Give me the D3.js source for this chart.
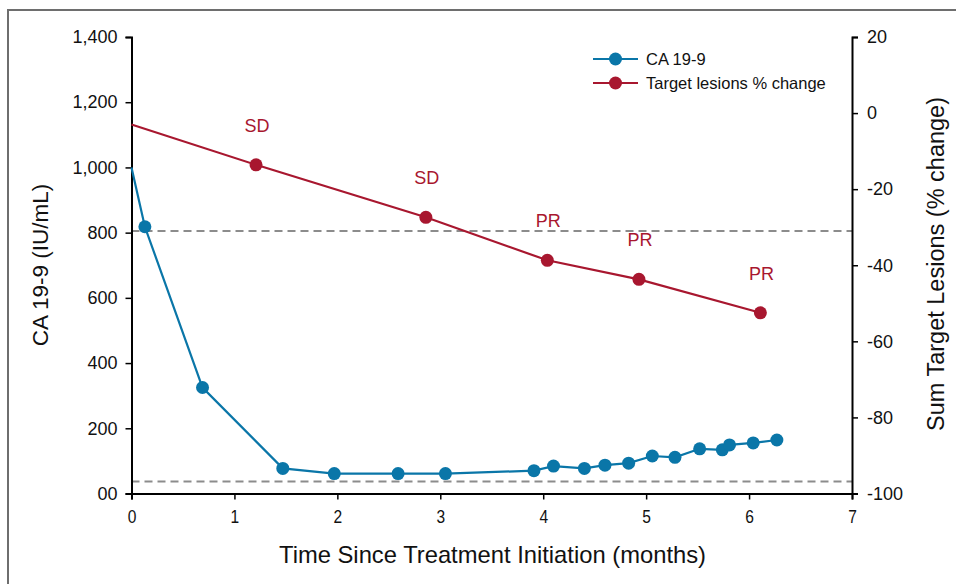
<!DOCTYPE html>
<html>
  <head>
    <meta charset="utf-8">
    <script src="https://d3js.org/d3.v7.min.js"></script>
    <style>
      body { margin: 0; background: #fff; }
      text { font-family: "Liberation Sans", Arial, sans-serif; }
    </style>
  </head>
  <body>
    <div id="chart"></div>

    <script>
      // CA 19-9 (IU/mL) over time (months)
      const caMonths = [0, 0.13, 0.69, 1.47, 1.97, 2.59, 3.05, 3.91, 4.10, 4.40, 4.60, 4.83, 5.06, 5.28, 5.52, 5.74, 5.81, 6.04, 6.27];
      const caValues = [1000, 818, 325, 77, 61, 61, 61, 70, 84, 77, 87, 93, 115, 111, 137, 134, 149, 155, 164];
      // sum of target lesions, % change
      const lesionMonths = [0, 1.21, 2.86, 4.04, 4.93, 6.11];
      const lesionValues = [-3, -13.6, -27.4, -38.7, -43.7, -52.5];
      const responses = [null, "SD", "SD", "PR", "PR", "PR"];
      const xTicks = [0, 1, 2, 3, 4, 5, 6, 7];
      const leftTicks = [0, 200, 400, 600, 800, 1000, 1200, 1400];
      const rightTicks = [-100, -80, -60, -40, -20, 0, 20];
      const prThreshold = -31;   // dashed line, right axis
      const caNormal = 37;       // dashed line, left axis

      const width = 956;
      const height = 584;
      const blue = "#0a76a8";
      const red = "#a8172f";

      const svg = d3.select("#chart")
        .append("svg")
        .attr("width", width)
        .attr("height", height);

      // outer frame
      svg.append("rect")
        .attr("x", 8).attr("y", 10)
        .attr("width", 1000).attr("height", 700)
        .attr("fill", "none")
        .attr("stroke", "#6e6e6e")
        .attr("stroke-width", 2);

      const x = d3.scaleLinear().domain([0, 7]).range([131.5, 852]);
      const yL = d3.scaleLinear().domain([0, 1400]).range([493.5, 37]);
      const yR = d3.scaleLinear().domain([-100, 20]).range([493.5, 37]);

      // reference lines
      svg.append("line")
        .attr("x1", x(0)).attr("x2", x(7))
        .attr("y1", yR(prThreshold)).attr("y2", yR(prThreshold))
        .attr("stroke", "#8c8c8c").attr("stroke-width", 2)
        .attr("stroke-dasharray", "8,5");
      svg.append("line")
        .attr("x1", x(0)).attr("x2", x(7))
        .attr("y1", yL(caNormal)).attr("y2", yL(caNormal))
        .attr("stroke", "#8c8c8c").attr("stroke-width", 2)
        .attr("stroke-dasharray", "8,5");

      // axes
      const xAxis = svg.append("g")
        .attr("transform", `translate(0,${yL(0)})`)
        .call(d3.axisBottom(x).tickValues(xTicks).tickSize(6).tickPadding(10)
          .tickFormat(d => String(d)));
      xAxis.selectAll("text")
        .style("font-size", "19px")
        .attr("transform", "scale(0.82,1)");

      const leftAxis = svg.append("g")
        .attr("transform", `translate(${x(0)},0)`)
        .call(d3.axisLeft(yL).tickValues(leftTicks).tickSize(6).tickPadding(8)
          .tickFormat(d => d === 0 ? "00" : d3.format(",")(d)));
      leftAxis.selectAll("text").style("font-size", "18px");

      const rightAxis = svg.append("g")
        .attr("transform", `translate(${x(7)},0)`)
        .call(d3.axisRight(yR).tickValues(rightTicks).tickSize(6).tickPadding(9)
          .tickFormat(d => String(d)));
      rightAxis.selectAll("text").style("font-size", "18px");

      svg.selectAll(".domain").attr("stroke", "#000").attr("stroke-width", 2);
      svg.selectAll(".tick line").attr("stroke", "#000").attr("stroke-width", 1.5);
      svg.selectAll(".tick text").attr("fill", "#111");

      // lines
      const caData = caMonths.map((m, i) => ({ m: m, v: caValues[i] }));
      const lesionData = lesionMonths.map((m, i) => ({ m: m, v: lesionValues[i], r: responses[i] }));

      svg.append("path")
        .datum(caData)
        .attr("fill", "none")
        .attr("stroke", blue)
        .attr("stroke-width", 2.2)
        .attr("d", d3.line().x(d => x(d.m)).y(d => yL(d.v)));

      svg.append("path")
        .datum(lesionData)
        .attr("fill", "none")
        .attr("stroke", red)
        .attr("stroke-width", 2.2)
        .attr("d", d3.line().x(d => x(d.m)).y(d => yR(d.v)));

      svg.selectAll(".ca-dot")
        .data(caData.slice(1))
        .enter()
        .append("circle")
        .attr("class", "ca-dot")
        .attr("cx", d => x(d.m))
        .attr("cy", d => yL(d.v))
        .attr("r", 6.5)
        .attr("fill", blue);

      svg.selectAll(".lesion-dot")
        .data(lesionData.slice(1))
        .enter()
        .append("circle")
        .attr("class", "lesion-dot")
        .attr("cx", d => x(d.m))
        .attr("cy", d => yR(d.v))
        .attr("r", 6.5)
        .attr("fill", red);

      svg.selectAll(".resp")
        .data(lesionData.slice(1))
        .enter()
        .append("text")
        .attr("class", "resp")
        .attr("x", d => x(d.m) + 1)
        .attr("y", d => yR(d.v) - 33)
        .attr("text-anchor", "middle")
        .attr("fill", red)
        .style("font-size", "18px")
        .text(d => d.r);

      // legend
      const legend = [
        { label: "CA 19-9", color: blue },
        { label: "Target lesions % change", color: red }
      ];
      const lg = svg.append("g");
      legend.forEach((d, i) => {
        const ly = 59 + i * 24;
        lg.append("line")
          .attr("x1", 593).attr("x2", 638)
          .attr("y1", ly).attr("y2", ly)
          .attr("stroke", d.color).attr("stroke-width", 2.2);
        lg.append("circle")
          .attr("cx", 615.5).attr("cy", ly).attr("r", 6.5)
          .attr("fill", d.color);
        lg.append("text")
          .attr("x", 646).attr("y", ly + 6)
          .style("font-size", "16.5px")
          .attr("fill", "#111")
          .text(d.label);
      });

      // axis titles
      svg.append("text")
        .attr("x", 279)
        .attr("y", 563)
        .attr("textLength", 427)
        .attr("lengthAdjust", "spacingAndGlyphs")
        .style("font-size", "24px")
        .attr("fill", "#111")
        .text("Time Since Treatment Initiation (months)");

      svg.append("text")
        .attr("transform", "rotate(-90)")
        .attr("x", -265)
        .attr("y", 48)
        .attr("text-anchor", "middle")
        .style("font-size", "22.5px")
        .attr("fill", "#111")
        .text("CA 19-9 (IU/mL)");

      svg.append("text")
        .attr("transform", "rotate(-90)")
        .attr("x", -264)
        .attr("y", 944)
        .attr("text-anchor", "middle")
        .style("font-size", "23.5px")
        .attr("fill", "#111")
        .text("Sum Target Lesions (% change)");
    </script>
  </body>
</html>
